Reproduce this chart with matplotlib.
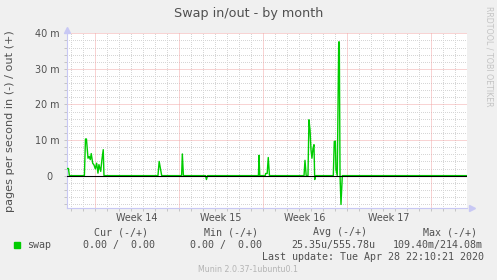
import numpy as np
import matplotlib
matplotlib.use('Agg')
import matplotlib.pyplot as plt
from matplotlib.patches import Rectangle
from matplotlib.transforms import blended_transform_factory

# Swap activity, days since Mon 30 Mar 2020 (start of week 14), values in milli pages/s
# (positive = swap out, negative = swap in)
days = [-2.36, -2.21, -2.13, -0.88, -0.79, -0.71, -0.58, -0.48, -0.39, -0.31,
        -0.19, -0.08, 0.03, 0.14, 0.25, 0.33, 0.48, 0.58, 0.69, 0.75,
        5.25, 5.35, 5.56,
        7.22, 7.28, 7.37,
        9.21, 9.29, 9.38,
        13.62, 13.67, 13.73,
        14.19, 14.22, 14.35, 14.44, 14.54,
        17.42, 17.50, 17.60, 17.75, 17.83, 17.92, 18.00, 18.08, 18.17, 18.25, 18.31, 18.39,
        19.86, 19.94, 20.03, 20.08, 20.19, 20.31, 20.36, 20.42, 20.50, 20.61, 30.98]
swap = [2.0, 2.0, 0, 0, 10.3, 10.3, 4.9, 5.4, 4.5, 6.2,
        3.5, 3.0, 1.9, 3.5, 0.7, 3.1, 1.2, 4.5, 7.3, 0,
        0, 4.0, 0,
        0, 6.1, 0,
        0, -1.1, 0,
        0, 5.7, 0,
        0, 0.6, 0.6, 5.1, 0,
        0, 4.3, 0, 0, 15.7, 12.9, 7.3, 4.9, 7.7, 8.7, -1.1, 0,
        0, 9.6, 9.7, 1.7, 0, 37.6, 37.6, 0, -8.1, 0, 0]

week_labels = ['Week 14', 'Week 15', 'Week 16', 'Week 17']
week_centers = [3.5, 10.5, 17.5, 24.5]
ytick_vals = [0, 10, 20, 30, 40]
ytick_labels = ['0  ', '10 m', '20 m', '30 m', '40 m']

legend_headers = ['Cur (-/+)', 'Min (-/+)', 'Avg (-/+)', 'Max (-/+)']
legend_values = ['0.00 /  0.00', '0.00 /  0.00', '25.35u/555.78u', '109.40m/214.08m']

W, H = 497, 280
fig = plt.figure(figsize=(W / 100, H / 100), dpi=100, facecolor='#f0f0f0')

def fx(x):
    return x / W

def fy(y):
    return 1 - y / H

# plot area on whole pixels: x 67..467, y 33..208
ax = fig.add_axes([fx(67), fy(208), 400 / W, 175 / H], facecolor='white')
xmin, xmax = -2.33, 31.0
ymin, ymax = -9.1, 40.1
ax.set_xlim(xmin, xmax)
ax.set_ylim(ymin, ymax)

# grid: minor every day / 2 m (grey dots), major every week / 10 m (pink)
minor_grid = '#d6d6d6'
major_grid = '#f3a8a8'
for d in np.arange(np.ceil(xmin), xmax, 1):
    if int(d) % 7 == 0:
        ax.axvline(d, color=major_grid, lw=0.72, ls=(0, (1, 1)), zorder=2)
    else:
        ax.axvline(d, color=minor_grid, lw=0.72, ls=(0.5, (1, 1)), zorder=1)
for v in np.arange(-8, 41, 2):
    if int(v) % 10 == 0:
        ax.axhline(v, color=major_grid, lw=0.72, ls=(0, (1, 1)), zorder=2)
    else:
        ax.axhline(v, color=minor_grid, lw=0.72, ls=(0.5, (1, 1)), zorder=1)

ax.plot(days, swap, color='#00cc00', lw=1.0, zorder=3)
ax.axhline(0, color='black', lw=0.8, zorder=4)

axis_col = '#c8c8f4'
for s in ['top', 'right']:
    ax.spines[s].set_visible(False)
for s in ['left', 'bottom']:
    ax.spines[s].set_color(axis_col)
    ax.spines[s].set_linewidth(0.8)

ax.set_yticks(ytick_vals)
ax.set_yticklabels(ytick_labels)
ax.set_yticks(np.arange(-8, 41, 2), minor=True)
ax.set_xticks(np.arange(np.ceil(xmin), xmax, 1), minor=True)
ax.set_xticks([])
ax.tick_params(axis='y', which='both', length=2, width=0.7, color='#c4c4c4',
               labelsize=6.9, labelcolor='#505050', pad=3.5)
ax.tick_params(axis='x', which='minor', length=2, width=0.7, color='#c4c4c4')

# arrows at the axis ends
ax.plot([0], [1.02], marker='^', ms=4, color=axis_col, transform=ax.transAxes, clip_on=False)
ax.plot([1.012], [0], marker='>', ms=4, color=axis_col, transform=ax.transAxes, clip_on=False)

trans = blended_transform_factory(ax.transData, ax.transAxes)
for lab, c in zip(week_labels, week_centers):
    ax.text(c, -0.056, lab, transform=trans, ha='center', va='center',
            fontsize=6.9, color='#505050')

fig.text(fx(248.3), fy(14), 'Swap in/out - by month', ha='center', va='center',
         fontsize=9.2, color='#505050')
fig.text(fx(10), fy(121), 'pages per second in (-) / out (+)', rotation=90,
         ha='center', va='center', fontsize=8.1, color='#505050')
fig.text(fx(488.7), fy(56), 'RRDTOOL / TOBI OETIKER', rotation=270,
         ha='center', va='center', fontsize=5.7, color='#c4c4c4')

mono = 'DejaVu Sans Mono'
fig.patches.append(Rectangle((fx(14), fy(248)), 6 / W, 6 / H, transform=fig.transFigure,
                             color='#00cc00', figure=fig))
fig.text(fx(26.7), fy(245), 'swap', family=mono, fontsize=7.2, color='#505050',
         ha='left', va='center')
for lab, x in zip(legend_headers, [94.3, 204, 313.3, 422.7]):
    fig.text(fx(x), fy(232.3), lab, family=mono, fontsize=7.2, color='#505050',
             ha='left', va='center')
for lab, x in zip(legend_values, [83.3, 190, 291.7, 392.7]):
    fig.text(fx(x), fy(245), lab, family=mono, fontsize=7.2, color='#505050',
             ha='left', va='center')
fig.text(fx(261.7), fy(256.7), 'Last update: Tue Apr 28 22:10:21 2020', family=mono,
         fontsize=7.2, color='#505050', ha='left', va='center')
fig.text(fx(247.8), fy(269), 'Munin 2.0.37-1ubuntu0.1', ha='center', va='center',
         fontsize=5.7, color='#b4b4b4')

fig.savefig('out.png', dpi=100, facecolor=fig.get_facecolor())
